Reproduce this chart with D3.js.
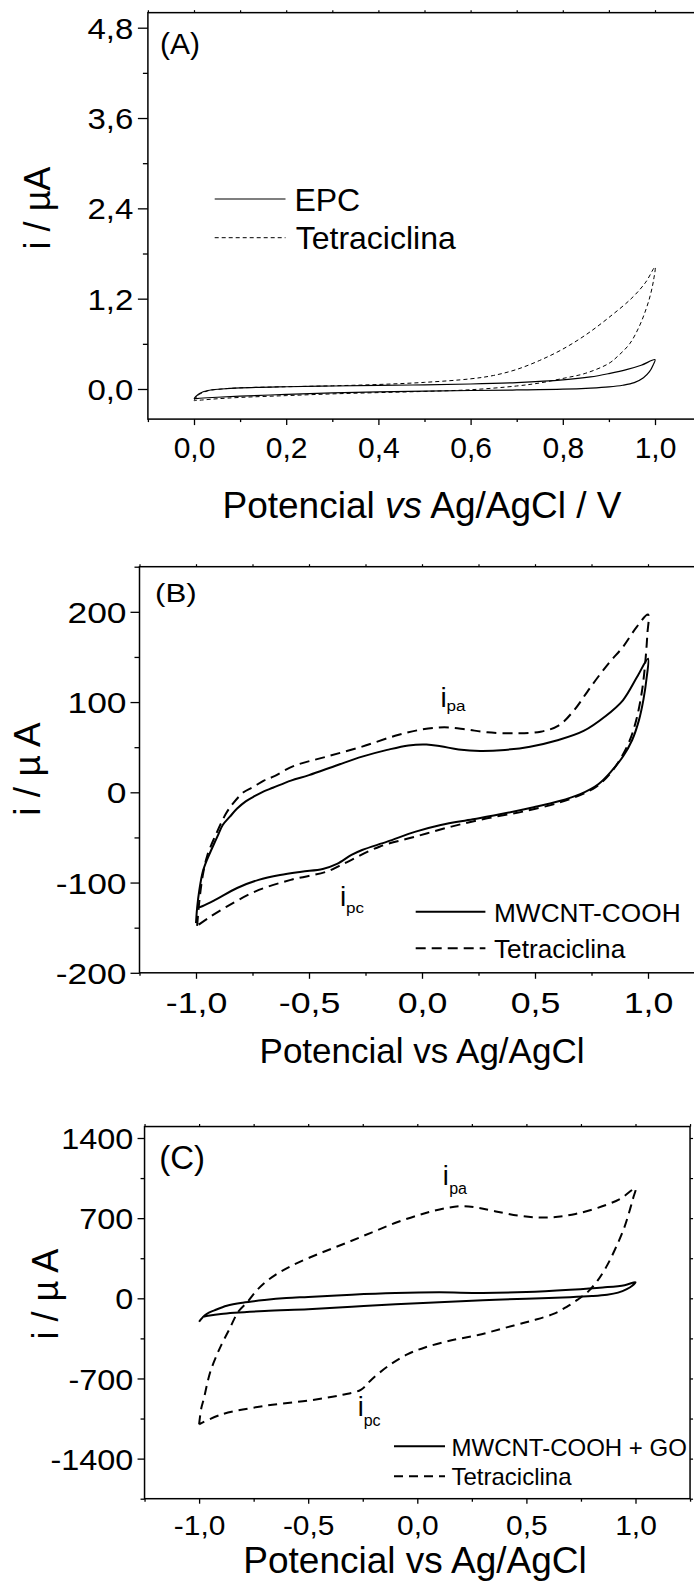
<!DOCTYPE html>
<html>
<head>
<meta charset="utf-8">
<script src="https://cdn.jsdelivr.net/npm/d3@7"></script>
<style>
  body { margin: 0; background: #fff; }
  svg { display: block; }
  text { font-family: "Liberation Sans", Arial, sans-serif; fill: #000; }
</style>
</head>
<body>
<svg id="fig" width="694" height="1593"></svg>
<script>
// ---------- (A) carbon paste electrode, 0 → 1.0 V ----------
const aEpcE = [0.000, 0.004, 0.012, 0.030, 0.060, 0.100, 0.200, 0.300, 0.400, 0.500, 0.600, 0.700, 0.800, 0.860, 0.900, 0.940, 0.970, 1.000,
               0.996, 0.988, 0.975, 0.955, 0.930, 0.900, 0.860, 0.800, 0.700, 0.600, 0.500, 0.400, 0.300, 0.200, 0.100, 0.050, 0.020, 0.005, 0.000];
const aEpcI = [-0.13, -0.10, -0.06, -0.02, 0.00, 0.015, 0.030, 0.040, 0.048, 0.055, 0.066, 0.085, 0.120, 0.160, 0.205, 0.260, 0.315, 0.390,
               0.320, 0.230, 0.150, 0.085, 0.050, 0.028, 0.012, -0.003, -0.013, -0.020, -0.028, -0.038, -0.052, -0.072, -0.095, -0.110, -0.120, -0.127, -0.130];
const aTetE = [0.000, 0.004, 0.012, 0.030, 0.060, 0.100, 0.200, 0.300, 0.400, 0.500, 0.600, 0.650, 0.700, 0.750, 0.800, 0.850, 0.900, 0.950, 0.980, 1.000,
               0.997, 0.990, 0.980, 0.965, 0.945, 0.920, 0.900, 0.850, 0.800, 0.750, 0.700, 0.600, 0.500, 0.400, 0.300, 0.200, 0.100, 0.050, 0.020, 0.000];
const aTetI = [-0.15, -0.12, -0.07, -0.025, 0.00, 0.015, 0.030, 0.042, 0.060, 0.088, 0.135, 0.180, 0.260, 0.380, 0.530, 0.720, 0.950, 1.210, 1.420, 1.620,
               1.450, 1.250, 1.050, 0.820, 0.600, 0.440, 0.340, 0.210, 0.140, 0.080, 0.040, -0.010, -0.032, -0.048, -0.065, -0.088, -0.112, -0.130, -0.145, -0.155];
const aXMajor = [0, 0.2, 0.4, 0.6, 0.8, 1.0];
const aXMinor = [-0.1, 0.1, 0.3, 0.5, 0.7, 0.9, 1.1];
const aYMajor = [0, 1.2, 2.4, 3.6, 4.8];
const aYMinor = [0.6, 1.8, 3.0, 4.2];

// ---------- (B) MWCNT-COOH, -1.0 → 1.0 V ----------
const bMwE = [-1.000, -0.995, -0.985, -0.970, -0.950, -0.929, -0.900, -0.881, -0.850, -0.818, -0.780, -0.739, -0.700, -0.660, -0.580, -0.500,
              -0.376, -0.265, -0.154, -0.060, 0.020, 0.083, 0.162, 0.257, 0.367, 0.478, 0.604, 0.715, 0.810, 0.889, 0.952, 1.000,
              0.993, 0.980, 0.960, 0.930, 0.890, 0.840, 0.780, 0.700, 0.604, 0.494, 0.367, 0.225, 0.083, -0.028, -0.154, -0.265,
              -0.312, -0.376, -0.439, -0.533, -0.628, -0.723, -0.818, -0.913, -0.970, -0.995];
const bMwI = [-145, -128, -108, -88, -74, -62, -46, -36, -27, -18, -10, -4, 1, 5, 13, 19,
              30, 39.5, 47, 52, 53, 51, 47.5, 45.8, 47, 50.6, 58, 68, 84, 102, 128, 148,
              125, 103, 80, 58, 40, 24, 9, -2, -10, -16.6, -23.3, -29.9, -36.2, -43.6, -54.7, -63.9,
              -69.4, -79.4, -85, -88, -91.6, -97, -106, -119, -126, -128];
const bTetE = [-0.995, -0.985, -0.970, -0.950, -0.916, -0.866, -0.835, -0.790, -0.746, -0.700, -0.658, -0.569, -0.423, -0.265, -0.107, 0.004,
               0.099, 0.193, 0.288, 0.415, 0.525, 0.604, 0.668, 0.747, 0.826, 0.889, 0.952, 1.000,
               0.997, 0.990, 0.975, 0.950, 0.920, 0.880, 0.830, 0.770, 0.700, 0.600, 0.446, 0.288, 0.130, -0.028, -0.186, -0.344,
               -0.423, -0.581, -0.739, -0.866, -0.950, -0.995];
const bTetI = [-148, -120, -92, -70, -49, -23, -12, 0, 6, 13, 17.3, 29, 39.5, 50.6, 63.5, 69.8,
               72, 69.8, 66.5, 65.4, 67.2, 73.9, 89.4, 117, 143, 161, 184, 197,
               175, 150, 115, 82, 58, 38, 20, 6, -3, -12, -21.4, -28.8, -38, -49, -60, -78.7,
               -88, -97, -110, -127, -140, -148];
const bXMajor = [-1.0, -0.5, 0, 0.5, 1.0];
const bXMinor = [-1.25, -0.75, -0.25, 0.25, 0.75, 1.25];
const bYMajor = [-200, -100, 0, 100, 200];
const bYMinor = [-150, -50, 50, 150, 250];

// ---------- (C) MWCNT-COOH + GO, -1.0 → 1.0 V ----------
const cGoE = [-1.000, -0.990, -0.975, -0.955, -0.930, -0.873, -0.800, -0.700, -0.600, -0.500, -0.300, -0.100, 0.100, 0.300, 0.500, 0.700, 0.850, 0.950, 1.000,
              0.985, 0.960, 0.920, 0.870, 0.800, 0.700, 0.500, 0.300, 0.100, -0.100, -0.300, -0.500, -0.700, -0.900, -0.960, -0.985];
const cGoI = [-205, -180, -150, -125, -105, -65, -38, -15, 2, 12, 32, 46, 52, 47, 55, 75, 95, 115, 140,
              110, 80, 50, 32, 20, 10, -3, -18, -34, -52, -74, -96, -111, -136, -153, -163];
const cTetE = [-1.000, -0.990, -0.980, -0.950, -0.920, -0.900, -0.860, -0.820, -0.780, -0.740, -0.700, -0.650, -0.570, -0.450, -0.330, -0.210,
               -0.090, 0.035, 0.137, 0.208, 0.279, 0.360, 0.462, 0.563, 0.644, 0.725, 0.827, 0.928, 1.000,
               0.990, 0.979, 0.949, 0.908, 0.868, 0.827, 0.786, 0.735, 0.685, 0.624, 0.522, 0.400, 0.279, 0.157, 0.035, -0.046,
               -0.127, -0.208, -0.259, -0.350, -0.492, -0.695, -0.898, -1.000];
const cTetI = [-1100, -960, -890, -650, -500, -415, -265, -115, -35, 60, 135, 205, 290, 390, 480, 574,
               666, 743, 790, 805, 790, 759, 722, 706, 712, 737, 790, 867, 960,
               880, 805, 620, 435, 281, 157, 65, -12, -74, -136, -197, -259, -321, -367, -429, -490,
               -583, -706, -799, -845, -891, -938, -1015, -1100];
const cXMajor = [-1.0, -0.5, 0, 0.5, 1.0];
const cXMinor = [-1.25, -0.75, -0.25, 0.25, 0.75, 1.25];
const cYMajor = [-1400, -700, 0, 700, 1400];
const cYMinor = [-1750, -1050, -350, 350, 1050];

// ---------- helpers ----------
const ptLocale = d3.formatLocale({decimal: ",", thousands: ".", grouping: [3], currency: ["", ""], minus: "-"});
const fmtDec = ptLocale.format(".1f");
const fmtInt = ptLocale.format("d");
const zip = (xs, ys) => xs.slice(0, Math.min(xs.length, ys.length)).map((v, i) => [v, ys[i]]);

const svg = d3.select("#fig");
svg.append("rect").attr("width", 694).attr("height", 1593).attr("fill", "#fff");

function txt(g, str, x, y, size, opts = {}) {
  const sx = opts.sx || 1;
  const t = g.append("text")
    .attr("transform", `translate(${x},${y})` + (opts.rotate ? ` rotate(${opts.rotate})` : "") + ` scale(${sx},1)`)
    .attr("font-size", size)
    .attr("text-anchor", opts.anchor || "start");
  if (Array.isArray(str)) {
    str.forEach(p => t.append("tspan").attr("font-style", p.italic ? "italic" : null).text(p.t));
  } else {
    t.text(str);
  }
  return t;
}

function tickGroup(g, axis, tx, ty, width) {
  const a = g.append("g").attr("transform", `translate(${tx},${ty})`).call(axis);
  a.select(".domain").remove();
  a.selectAll(".tick line").attr("stroke", "#000").attr("stroke-width", width);
  return a;
}

function drawPanel(c) {
  const g = svg.append("g");
  const x = d3.scaleLinear().domain(c.xDomain).range(c.xRange);
  const y = d3.scaleLinear().domain(c.yDomain).range(c.yRange);
  const [xl, xr] = c.xRange;
  const [yb, yt] = c.yRange;

  // minor ticks
  tickGroup(g, d3.axisBottom(x).tickValues(c.xMinor).tickSize(c.xMinorLen).tickFormat("").tickSizeOuter(0), 0, yb, 1.3);
  tickGroup(g, d3.axisLeft(y).tickValues(c.yMinor.filter(v => v >= c.yDomain[0] && v <= c.yDomain[1])).tickSize(c.yMinorLen).tickFormat("").tickSizeOuter(0), xl, 0, 1.3);
  tickGroup(g, d3.axisTop(x).tickValues(c.xMajor.concat(c.xMinor)).tickSize(2.5).tickFormat("").tickSizeOuter(0), 0, yt, 1.2);
  if (c.rightTicks) {
    tickGroup(g, d3.axisRight(y).tickValues(c.yMajor.concat(c.yMinor)).tickSize(3).tickFormat("").tickSizeOuter(0), xr, 0, 1.2);
  }

  // major ticks with labels
  const bx = tickGroup(g, d3.axisBottom(x).tickValues(c.xMajor).tickSize(c.xMajorLen).tickFormat(c.xFmt).tickSizeOuter(0), 0, yb, 1.3);
  bx.attr("font-family", null).attr("font-size", null);
  bx.selectAll("text")
    .attr("y", null).attr("dy", null)
    .attr("font-size", c.xTickSize)
    .attr("transform", `translate(0,${c.xTickBase - yb}) scale(${c.xTickSx},1)`);

  const ly = tickGroup(g, d3.axisLeft(y).tickValues(c.yMajor).tickSize(c.yMajorLen).tickFormat(c.yFmt).tickSizeOuter(0), xl, 0, 1.3);
  ly.attr("font-family", null).attr("font-size", null);
  ly.selectAll("text")
    .attr("x", null).attr("dy", null)
    .attr("font-size", c.yTickSize)
    .attr("transform", `translate(${c.yTickEnd - xl},${0.355 * c.yTickSize}) scale(${c.yTickSx},1)`);

  // frame
  g.append("rect")
    .attr("x", xl).attr("y", yt).attr("width", xr - xl).attr("height", yb - yt)
    .attr("fill", "none").attr("stroke", "#000").attr("stroke-width", 1.5);

  // voltammograms
  const line = d3.line().x(d => x(d[0])).y(d => y(d[1])).curve(d3.curveCatmullRom.alpha(0.5));
  c.series.forEach(s => {
    g.append("path")
      .datum(zip(s.e, s.i))
      .attr("d", line)
      .attr("fill", "none")
      .attr("stroke", "#000")
      .attr("stroke-width", s.width)
      .attr("stroke-dasharray", s.dash || null)
      .attr("stroke-linejoin", "round");
  });

  // legend
  c.legend.forEach((l, k) => {
    const s = c.series[k];
    g.append("line")
      .attr("x1", l.x1).attr("x2", l.x2).attr("y1", l.y).attr("y2", l.y)
      .attr("stroke", "#000").attr("stroke-width", s.width)
      .attr("stroke-dasharray", s.dash || null);
    txt(g, s.name, l.tx, l.tb, l.size, {sx: l.sx});
  });

  // panel tag
  txt(g, c.tag.t, c.tag.x, c.tag.y, c.tag.size, {sx: c.tag.sx});

  // peak annotations
  (c.peaks || []).forEach(p => {
    txt(g, "i", p.x, p.y, p.size, {sx: p.sx});
    txt(g, p.sub, p.x + p.subDx, p.y + p.subDy, p.subSize, {sx: p.subSx});
  });

  // axis titles
  txt(g, c.xTitle, c.xTitlePos[0], c.xTitlePos[1], c.xTitleSize, {anchor: "middle"});
  txt(g, c.yTitle, c.yTitlePos[0], c.yTitlePos[1], c.yTitleSize, {anchor: "middle", rotate: -90});
}

// ---------- panel A ----------
drawPanel({
  xDomain: [-0.1, 1.1], xRange: [147.9, 701.1],
  yDomain: [-0.4, 5.0], yRange: [419.1, 12.65],
  xMajor: aXMajor, xMinor: aXMinor, yMajor: aYMajor, yMinor: aYMinor,
  xMajorLen: 6, xMinorLen: 3, yMajorLen: 10, yMinorLen: 5,
  xFmt: fmtDec, yFmt: fmtDec,
  xTickSize: 30, xTickSx: 1, xTickBase: 458,
  yTickSize: 30, yTickSx: 1.1, yTickEnd: 133.3,
  series: [
    {name: "EPC", e: aEpcE, i: aEpcI, width: 1.2},
    {name: "Tetraciclina", e: aTetE, i: aTetI, width: 1, dash: "4,3"}
  ],
  legend: [
    {x1: 214.7, x2: 285.5, y: 199, tx: 294.4, tb: 210.5, size: 32, sx: 1},
    {x1: 214.7, x2: 285.5, y: 237.7, tx: 295.7, tb: 248.5, size: 32, sx: 1}
  ],
  tag: {t: "(A)", x: 160, y: 54, size: 30, sx: 1},
  xTitle: [{t: "Potencial "}, {t: "vs", italic: true}, {t: " Ag/AgCl / V"}],
  xTitlePos: [422, 518], xTitleSize: 37,
  yTitle: "i / µA", yTitlePos: [50, 208], yTitleSize: 36
});

// ---------- panel B ----------
drawPanel({
  xDomain: [-1.25, 1.25], xRange: [139.5, 704.5],
  yDomain: [-200, 250], yRange: [972.8, 566.7],
  xMajor: bXMajor, xMinor: bXMinor, yMajor: bYMajor, yMinor: bYMinor,
  xMajorLen: 6, xMinorLen: 3, yMajorLen: 9, yMinorLen: 5,
  xFmt: fmtDec, yFmt: fmtInt,
  xTickSize: 30, xTickSx: 1.19, xTickBase: 1013.3,
  yTickSize: 30, yTickSx: 1.18, yTickEnd: 126.5,
  series: [
    {name: "MWCNT-COOH", e: bMwE, i: bMwI, width: 2},
    {name: "Tetraciclina", e: bTetE, i: bTetI, width: 2, dash: "10,6"}
  ],
  legend: [
    {x1: 415.7, x2: 485.4, y: 911.7, tx: 494, tb: 921.7, size: 25, sx: 1.05},
    {x1: 415.7, x2: 485.4, y: 948.3, tx: 494, tb: 958.3, size: 25, sx: 1.05}
  ],
  tag: {t: "(B)", x: 155, y: 602, size: 25, sx: 1.25},
  peaks: [
    {x: 440.5, y: 707, size: 28, sx: 1, sub: "pa", subDx: 6, subDy: 4, subSize: 15, subSx: 1.14},
    {x: 340, y: 906, size: 28, sx: 1, sub: "pc", subDx: 6, subDy: 7, subSize: 15, subSx: 1.14}
  ],
  xTitle: "Potencial vs Ag/AgCl", xTitlePos: [422, 1063], xTitleSize: 35,
  yTitle: "i / µ A", yTitlePos: [40, 769], yTitleSize: 37
});

// ---------- panel C ----------
drawPanel({
  xDomain: [-1.25, 1.25], xRange: [144.55, 690.05],
  yDomain: [-1750, 1500], yRange: [1498.7, 1126.55],
  xMajor: cXMajor, xMinor: cXMinor, yMajor: cYMajor, yMinor: cYMinor,
  xMajorLen: 5, xMinorLen: 3, yMajorLen: 7, yMinorLen: 4,
  xFmt: fmtDec, yFmt: fmtInt, rightTicks: true,
  xTickSize: 28, xTickSx: 1.07, xTickBase: 1535,
  yTickSize: 30, yTickSx: 1.08, yTickEnd: 133.3,
  series: [
    {name: "MWCNT-COOH + GO", e: cGoE, i: cGoI, width: 2},
    {name: "Tetraciclina", e: cTetE, i: cTetI, width: 2, dash: "9,6"}
  ],
  legend: [
    {x1: 394, x2: 445, y: 1446.3, tx: 451.5, tb: 1456, size: 24, sx: 1},
    {x1: 394, x2: 445, y: 1476.3, tx: 451.5, tb: 1484.5, size: 24, sx: 1}
  ],
  tag: {t: "(C)", x: 159.3, y: 1169, size: 33, sx: 1},
  peaks: [
    {x: 442.7, y: 1184.6, size: 27, sx: 1, sub: "pa", subDx: 6.5, subDy: 9, subSize: 16, subSx: 1},
    {x: 357.7, y: 1415.7, size: 27, sx: 1, sub: "pc", subDx: 6, subDy: 10, subSize: 16, subSx: 1}
  ],
  xTitle: "Potencial vs Ag/AgCl", xTitlePos: [415, 1573.3], xTitleSize: 37,
  yTitle: "i / µ A", yTitlePos: [58, 1294], yTitleSize: 36
});
</script>
</body>
</html>
